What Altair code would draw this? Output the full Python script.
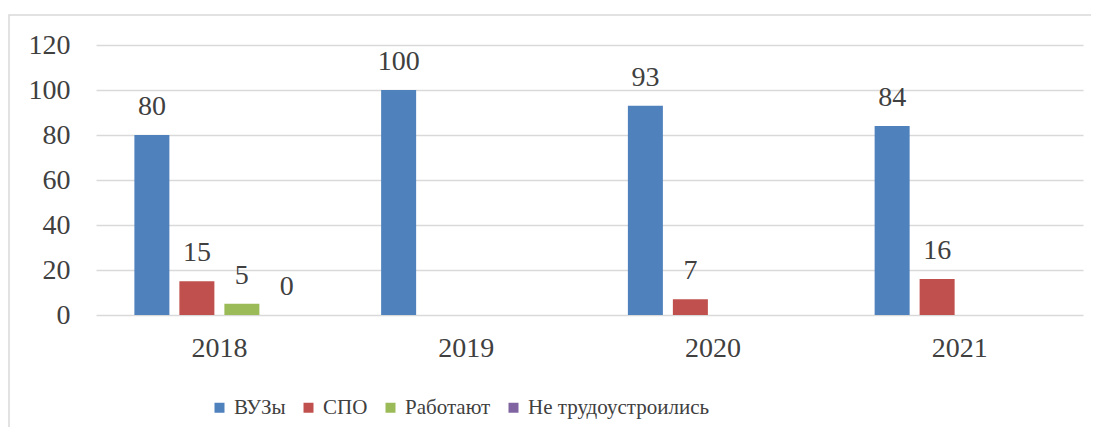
import altair as alt
import pandas as pd

years = ["2018", "2019", "2020", "2021"]
series = ["ВУЗы", "СПО", "Работают", "Не трудоустроились"]
colors = ["#4f81bd", "#c0504d", "#9bbb59", "#8064a2"]
vuz = [80, 100, 93, 84]
spo = [15, None, 7, 16]
rabot = [5, None, None, None]
ne_trud = [0, None, None, None]
y_ticks = [0, 20, 40, 60, 80, 100, 120]

rows = []
for s, vals in zip(series, [vuz, spo, rabot, ne_trud]):
    for yr, v in zip(years, vals):
        if v is not None:
            rows.append({"year": yr, "series": s, "value": v})
df = pd.DataFrame(rows)

FONT = "Liberation Serif"
TXT = "#404040"
FS = 28

x_enc = alt.X("year:N", sort=years, title=None,
              scale=alt.Scale(paddingInner=0, paddingOuter=0),
              axis=alt.Axis(labelAngle=0, labelFont=FONT, labelFontSize=FS, labelColor=TXT,
                            ticks=False, domain=False, labelPadding=19, grid=False))
xo_enc = alt.XOffset("series:N", sort=series,
                     scale=alt.Scale(domain=series, paddingInner=0.222, paddingOuter=0.853))
y_enc = alt.Y("value:Q", title=None,
              scale=alt.Scale(domain=[0, 120], nice=False),
              axis=alt.Axis(values=y_ticks, labelFont=FONT, labelFontSize=FS, labelColor=TXT,
                            ticks=False, domain=False, labelPadding=26,
                            gridColor="#d9d9d9", gridWidth=1.5))

bars = alt.Chart(df).mark_bar().encode(
    x=x_enc, xOffset=xo_enc, y=y_enc,
    color=alt.Color("series:N", sort=series,
                    scale=alt.Scale(domain=series, range=colors),
                    legend=alt.Legend(title=None, orient="none", direction="horizontal",
                                      legendX=113, legendY=352,
                                      symbolType="square", symbolSize=100,
                                      symbolStrokeWidth=0, labelLimit=0,
                                      labelFont=FONT, labelFontSize=21, labelColor=TXT,
                                      labelOffset=4, columnPadding=12)),
)

labels = alt.Chart(df).mark_text(font=FONT, fontSize=FS, color=TXT,
                                 baseline="alphabetic", dy=-20).encode(
    x=alt.X("year:N", sort=years), xOffset=alt.XOffset("series:N", sort=series),
    y="value:Q", text="value:Q",
)

border = alt.Chart(pd.DataFrame({"a": [0]})).mark_rect(
    fill=None, stroke="#d9d9d9", strokeWidth=1.5).encode(
    x=alt.value(-87), x2=alt.value(1100), y=alt.value(-30), y2=alt.value(500))

chart = alt.layer(border, bars, labels).properties(
    width=987, height=270,
    autosize=alt.AutoSizeParams(type="none"),
    padding={"left": 88, "top": 37, "right": 8, "bottom": 112},
).configure(background="white").configure_view(stroke=None)

chart.save("out.html", embed_options={"renderer": "svg", "actions": False})
